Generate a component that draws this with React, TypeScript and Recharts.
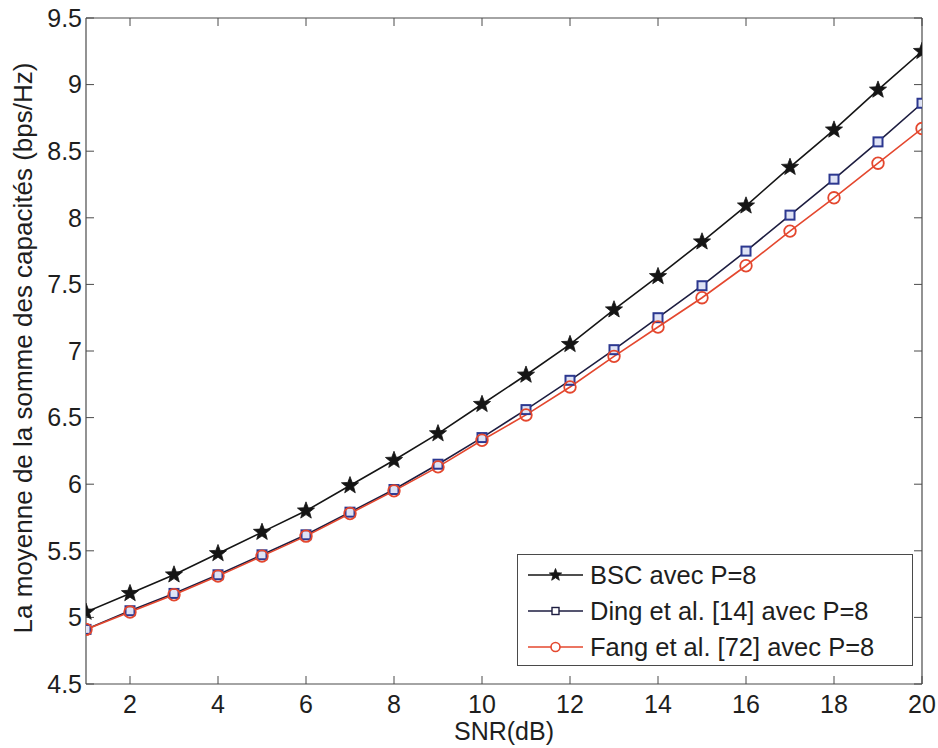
import React from 'react';
import { LineChart, Line, XAxis, YAxis, Legend } from 'recharts';

const snr = [1, 2, 3, 4, 5, 6, 7, 8, 9, 10, 11, 12, 13, 14, 15, 16, 17, 18, 19, 20];
const bsc = [5.04, 5.18, 5.32, 5.48, 5.64, 5.8, 5.99, 6.18, 6.38, 6.6, 6.82, 7.05, 7.31, 7.56, 7.82, 8.09, 8.38, 8.66, 8.96, 9.25];
const ding = [4.91, 5.05, 5.18, 5.32, 5.47, 5.62, 5.79, 5.96, 6.15, 6.35, 6.56, 6.78, 7.01, 7.25, 7.49, 7.75, 8.02, 8.29, 8.57, 8.86];
const fang = [4.91, 5.04, 5.17, 5.31, 5.46, 5.61, 5.78, 5.95, 6.13, 6.33, 6.52, 6.73, 6.96, 7.18, 7.4, 7.64, 7.9, 8.15, 8.41, 8.67];
const xTicks = [2, 4, 6, 8, 10, 12, 14, 16, 18, 20];
const yTicks = [4.5, 5, 5.5, 6, 6.5, 7, 7.5, 8, 8.5, 9, 9.5];
const seriesNames = ['BSC avec P=8', 'Ding et al. [14] avec P=8', 'Fang et al. [72] avec P=8'];
const xLabel = 'SNR(dB)';
const yLabel = 'La moyenne de la somme des capacités (bps/Hz)';

const data = snr.map((x, i) => ({ snr: x, bsc: bsc[i], ding: ding[i], fang: fang[i] }));

const FONT = '"Liberation Sans", Arial, Helvetica, sans-serif';
const FS = 25;
const AXIS = '#4a4a4a';
const TEXT = '#1e1e1e';
const BLACK = '#151515';
const NAVY_LINE = '#1d1d40';
const BLUE = '#2c3890';
const RED = '#e4472e';

function starPoints(cx: number, cy: number, R: number, r: number) {
  const pts: string[] = [];
  for (let k = 0; k < 10; k++) {
    const a = ((-90 + k * 36) * Math.PI) / 180;
    const rad = k % 2 === 0 ? R : r;
    pts.push(`${cx + rad * Math.cos(a)},${cy + rad * Math.sin(a)}`);
  }
  return pts.join(' ');
}

const StarMark = ({ cx, cy, R = 9 }: any) => (
  <polygon points={starPoints(cx, cy, R, R * 0.42)} fill={BLACK} stroke={BLACK} strokeWidth={0.8} />
);
const SquareMark = ({ cx, cy, s = 9 }: any) => (
  <rect x={cx - s / 2} y={cy - s / 2} width={s} height={s} fill="#dfe3f5" stroke={BLUE} strokeWidth={2} />
);
const CircleMark = ({ cx, cy, r = 5.8 }: any) => (
  <circle cx={cx} cy={cy} r={r} fill="none" stroke={RED} strokeWidth={1.8} />
);

const starDot = (p: any) => <StarMark key={`st-${p.index}`} cx={p.cx} cy={p.cy} />;
const squareDot = (p: any) => <SquareMark key={`sq-${p.index}`} cx={p.cx} cy={p.cy} />;
const circleDot = (p: any) => <CircleMark key={`ci-${p.index}`} cx={p.cx} cy={p.cy} />;

const NoTick = () => <g />;

const YLabel = (props: any) => {
  const vb = props.viewBox || { x: 26, y: 18, width: 60, height: 666 };
  const cx = vb.x + 6;
  const cy = vb.y + vb.height / 2 - 3;
  return (
    <text x={cx} y={cy} transform={`rotate(-90 ${cx} ${cy})`} textAnchor="middle" fontFamily={FONT} fontSize={26} fill={TEXT}>
      {yLabel}
    </text>
  );
};

const XLabel = (props: any) => {
  const vb = props.viewBox || { x: 86, y: 684, width: 836, height: 30 };
  return (
    <text x={vb.x + vb.width / 2} y={vb.y + 56} textAnchor="middle" fontFamily={FONT} fontSize={FS} fill={TEXT}>
      {xLabel}
    </text>
  );
};

const legendIcons = [
  (cx: number, cy: number) => (
    <>
      <line x1={0} y1={cy} x2={55} y2={cy} stroke={BLACK} strokeWidth={1.6} />
      <StarMark cx={cx} cy={cy} R={6.5} />
    </>
  ),
  (cx: number, cy: number) => (
    <>
      <line x1={0} y1={cy} x2={55} y2={cy} stroke={NAVY_LINE} strokeWidth={1.6} />
      <rect x={cx - 3.5} y={cy - 3.5} width={7} height={7} fill="#fff" stroke={NAVY_LINE} strokeWidth={1.4} />
    </>
  ),
  (cx: number, cy: number) => (
    <>
      <line x1={0} y1={cy} x2={55} y2={cy} stroke={RED} strokeWidth={1.6} />
      <circle cx={cx} cy={cy} r={4.5} fill="#fff" stroke={RED} strokeWidth={1.6} />
    </>
  ),
];

const renderLegend = () => (
  <div
    style={{
      width: 396,
      height: 112,
      boxSizing: 'border-box',
      border: `1px solid ${AXIS}`,
      background: '#fff',
      paddingTop: 2,
      fontFamily: FONT,
      fontSize: 25.5,
      color: TEXT,
    }}
  >
    {seriesNames.map((name, i) => (
      <div key={name} style={{ height: 36, display: 'flex', alignItems: 'center' }}>
        <svg width={62} height={36} style={{ marginLeft: 10, flex: 'none' }}>
          {legendIcons[i](27.5, 18)}
        </svg>
        <span style={{ whiteSpace: 'nowrap', lineHeight: '36px' }}>{name}</span>
      </div>
    ))}
  </div>
);

export default function App() {
  return (
    <div style={{ position: 'absolute', left: 0, top: 0, width: 938, height: 748, background: '#fff' }}>
      <LineChart width={938} height={748} data={data} margin={{ top: 18, right: 16, bottom: 34, left: 26 }}>
        <XAxis xAxisId="xt" orientation="top" type="number" dataKey="snr" domain={[1, 20]} ticks={xTicks} allowDataOverflow mirror height={1} tick={NoTick} tickSize={8} tickLine={{ stroke: AXIS }} axisLine={{ stroke: AXIS, strokeWidth: 1.2 }} />
        <XAxis xAxisId="xb" orientation="bottom" type="number" dataKey="snr" domain={[1, 20]} ticks={xTicks} allowDataOverflow mirror height={1} tick={NoTick} tickSize={8} tickLine={{ stroke: AXIS }} axisLine={false} />
        <YAxis yAxisId="yl" orientation="left" type="number" domain={[4.5, 9.5]} ticks={yTicks} allowDataOverflow mirror width={1} tick={NoTick} tickSize={8} tickLine={{ stroke: AXIS }} axisLine={false} />
        <YAxis yAxisId="yr" orientation="right" type="number" domain={[4.5, 9.5]} ticks={yTicks} allowDataOverflow mirror width={1} tick={NoTick} tickSize={8} tickLine={{ stroke: AXIS }} axisLine={{ stroke: AXIS, strokeWidth: 1.2 }} />
        <XAxis
          type="number"
          dataKey="snr"
          domain={[1, 20]}
          ticks={xTicks}
          allowDataOverflow
          height={30}
          tickLine={false}
          tickSize={0}
          tickMargin={11}
          axisLine={{ stroke: AXIS, strokeWidth: 1.2 }}
          tick={{ fontFamily: FONT, fontSize: FS, fill: TEXT }}
          label={<XLabel />}
        />
        <YAxis
          type="number"
          domain={[4.5, 9.5]}
          ticks={yTicks}
          allowDataOverflow
          width={60}
          tickLine={false}
          tickSize={0}
          tickMargin={4}
          axisLine={{ stroke: AXIS, strokeWidth: 1.2 }}
          tick={{ fontFamily: FONT, fontSize: FS, fill: TEXT }}
          label={<YLabel />}
        />
        <Line dataKey="bsc" name={seriesNames[0]} stroke={BLACK} strokeWidth={1.6} dot={starDot} isAnimationActive={false} />
        <Line dataKey="ding" name={seriesNames[1]} stroke={NAVY_LINE} strokeWidth={1.6} dot={squareDot} isAnimationActive={false} />
        <Line dataKey="fang" name={seriesNames[2]} stroke={RED} strokeWidth={1.6} dot={circleDot} isAnimationActive={false} />
        <Legend
          layout="vertical"
          align="center"
          verticalAlign="middle"
          content={renderLegend}
          wrapperStyle={{ left: 517, top: 554, width: 396, height: 112 }}
        />
      </LineChart>
    </div>
  );
}
